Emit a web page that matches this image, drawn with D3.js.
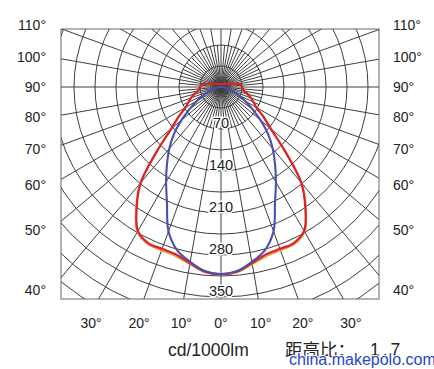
<!DOCTYPE html>
<html lang="zh">
<head>
<meta charset="UTF-8">
<title>配光曲线</title>
<script src="https://d3js.org/d3.v7.min.js"></script>
<style>
  body { margin: 0; background: #fff; }
  svg text { font-family: "Liberation Sans", Arial, sans-serif; fill: #222; }
</style>
</head>
<body>
<div id="chart"></div>
<script>
// gamma angle in degrees, 0 = straight down, 180 = straight up
const gammas   = [0, 5, 10, 15, 20, 25, 30, 35, 40, 45, 50, 55, 60, 65, 70, 75, 80, 85, 90, 95, 100, 110, 120, 135, 150, 165, 180];
// cd/1000lm, C0-180 plane (red), its twin (orange) and C90-270 plane (blue)
const redCd    = [312, 309, 298, 289, 287, 287, 277, 245, 208, 150, 108, 86, 68, 60, 53, 46, 39, 37, 35, 33, 29, 15, 10, 7, 6, 5, 5];
const orangeCd = [312, 310, 300, 292, 290, 289, 279, 247, 210, 152, 110, 87, 68, 60, 53, 46, 39, 37, 35, 33, 29, 15, 10, 7, 6, 5, 5];
const blueCd   = [312, 308, 296, 282, 256, 213, 183, 157, 134, 111, 86, 63, 46, 32, 20, 13, 8, 5, 3, 2, 1.5, 1, 1, 1, 1, 1, 1];

const ringStep = 35;
const ringLabels = [70, 140, 210, 280, 350];
const sideAngles = [110, 100, 90, 80, 70, 60, 50, 40];
const bottomAngles = [-30, -20, -10, 0, 10, 20, 30];

const width = 434, height = 369;
const box = { left: 61, right: 379, top: 29, bottom: 299 };
const cx = 221, cy = 87;

const r = d3.scaleLinear().domain([0, 350]).range([0, 210]);
const rad = d => d * Math.PI / 180;

const svg = d3.select("#chart").append("svg")
    .attr("width", width)
    .attr("height", height);

svg.append("clipPath").attr("id", "frame")
  .append("rect")
    .attr("x", box.left).attr("y", box.top)
    .attr("width", box.right - box.left)
    .attr("height", box.bottom - box.top);

const grid = svg.append("g")
    .attr("clip-path", "url(#frame)")
  .append("g")
    .attr("transform", `translate(${cx},${cy})`)
    .attr("fill", "none")
    .attr("stroke", "#3e3e3e")
    .attr("stroke-width", 1);

// concentric rings every 35 cd
grid.selectAll("circle")
  .data(d3.range(ringStep, 560, ringStep))
  .enter().append("circle")
    .attr("r", d => r(d));

// main spokes every 10 degrees
grid.selectAll("line.main")
  .data(d3.range(0, 360, 10))
  .enter().append("line")
    .attr("class", "main")
    .attr("x1", 0).attr("y1", 0)
    .attr("x2", d => Math.sin(rad(d)) * 500)
    .attr("y2", d => Math.cos(rad(d)) * 500);

// fine spokes near the centre
grid.selectAll("line.fine")
  .data(d3.range(5, 360, 10))
  .enter().append("line")
    .attr("class", "fine")
    .attr("x1", 0).attr("y1", 0)
    .attr("x2", d => Math.sin(rad(d)) * r(70))
    .attr("y2", d => Math.cos(rad(d)) * r(70));

svg.append("rect")
    .attr("x", box.left).attr("y", box.top)
    .attr("width", box.right - box.left)
    .attr("height", box.bottom - box.top)
    .attr("fill", "none")
    .attr("stroke", "#666")
    .attr("stroke-width", 1);

// build a closed outline from a half-plane of values (mirrored left/right)
function outline(values) {
  const right = gammas.map((g, i) => [Math.PI - rad(g), r(values[i])]);
  const left = gammas.slice(1, -1).reverse().map(g => {
    const i = gammas.indexOf(g);
    return [Math.PI + rad(g), r(values[i])];
  });
  return right.concat(left);
}

const curve = d3.lineRadial().curve(d3.curveCatmullRomClosed.alpha(0.5));
const plot = svg.append("g").attr("transform", `translate(${cx},${cy})`).attr("fill", "none");

plot.append("path").attr("d", curve(outline(orangeCd)))
    .attr("stroke", "#e59a3a").attr("stroke-width", 1.6);
plot.append("path").attr("d", curve(outline(redCd)))
    .attr("stroke", "#dc2229").attr("stroke-width", 2.2);
plot.append("path").attr("d", curve(outline(blueCd)))
    .attr("stroke", "#4b4fae").attr("stroke-width", 2.1);

// intensity labels on the 0 degree axis
svg.selectAll("text.ring")
  .data(ringLabels)
  .enter().append("text")
    .attr("class", "ring")
    .attr("x", cx)
    .attr("y", d => cy + r(d) - 1)
    .attr("text-anchor", "middle")
    .attr("font-size", 14.5)
    .attr("stroke", "#fff").attr("stroke-width", 3)
    .attr("paint-order", "stroke")
    .text(d => d);

// angle labels on both sides
const sideY = a => cy + 170 * Math.cos(rad(a)) / Math.sin(rad(a)) + 5;
svg.selectAll("text.left")
  .data(sideAngles)
  .enter().append("text")
    .attr("x", 46)
    .attr("y", sideY)
    .attr("text-anchor", "end")
    .attr("font-size", 14)
    .text(d => d + "°");
svg.selectAll("text.right")
  .data(sideAngles)
  .enter().append("text")
    .attr("x", 393)
    .attr("y", sideY)
    .attr("font-size", 14)
    .text(d => d + "°");

svg.selectAll("text.bottom")
  .data(bottomAngles)
  .enter().append("text")
    .attr("x", d => cx + 225 * Math.tan(rad(d)))
    .attr("y", 328)
    .attr("text-anchor", "middle")
    .attr("font-size", 14)
    .text(d => Math.abs(d) + "°");

svg.append("text")
    .attr("x", 168).attr("y", 356)
    .attr("font-size", 17.5)
    .text("cd/1000lm");

svg.append("text")
    .attr("x", 285).attr("y", 356)
    .attr("font-size", 17.5)
    .style("font-family", "'Noto Sans CJK SC', sans-serif")
    .text("距高比：");
svg.append("text")
    .attr("x", 370).attr("y", 356)
    .attr("font-size", 17.5)
    .attr("letter-spacing", 3)
    .text("1.7");

svg.append("text")
    .attr("x", 289).attr("y", 365)
    .attr("font-size", 16)
    .attr("stroke", "#fff").attr("stroke-width", 2)
    .attr("paint-order", "stroke")
    .style("fill", "#2446d2")
    .text("china.makepolo.com");
</script>
</body>
</html>
